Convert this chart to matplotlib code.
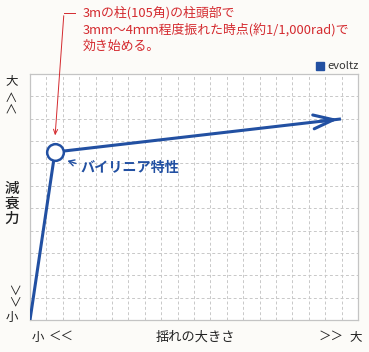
import matplotlib
matplotlib.use('Agg')
import matplotlib.pyplot as plt

plt.rcParams['font.family'] = ['Noto Sans CJK JP', 'DejaVu Sans']

# Data (grid units: 20 columns x 11 rows)
curve_x = [0.0, 1.52, 18.96]
curve_y = [0.0, 7.51, 8.99]
series_name = 'evoltz'
knee_label = 'バイリニア特性'
note_lines = ['3mの柱(105角)の柱頭部で',
              '3mm〜4ｍｍ程度振れた時点(約1/1,000rad)で',
              '効き始める。']
x_title = '揺れの大きさ'
y_title = '減\n衰\n力'

blue = '#2250a2'
red = '#d42a2f'
grid_col = '#c8c8c8'
ink = '#222222'

fig = plt.figure(figsize=(3.69, 3.52), dpi=100)
fig.patch.set_facecolor('#fcfbf8')
ax = fig.add_axes([30 / 369, 32 / 352, 328 / 369, 246 / 352])
ax.set_facecolor('white')
ax.set_xlim(0, 20)
ax.set_ylim(0, 11)
ax.set_xticks(range(0, 21))
ax.set_yticks(range(0, 12))
ax.tick_params(length=0, labelbottom=False, labelleft=False)
ax.grid(True, color=grid_col, linestyle=(0, (3, 2.5)), linewidth=0.7)
for s in ax.spines.values():
    s.set_color('#c4c4c4')
    s.set_linewidth(0.9)

# bilinear line
ax.plot(curve_x, curve_y, color=blue, linewidth=2.2, solid_capstyle='butt', zorder=3)
# open arrow head at the end
ax.annotate('', xy=(curve_x[2], curve_y[2]), xytext=(curve_x[2] - 1.4, curve_y[2] - 0.11),
            arrowprops=dict(arrowstyle='->,head_length=1.45,head_width=0.5', color=blue, lw=2.2),
            zorder=4)
# knee marker
ax.plot(curve_x[1], curve_y[1], 'o', markersize=12, markerfacecolor='white',
        markeredgecolor=blue, markeredgewidth=1.8, zorder=5)

# knee label with small arrow
ax.annotate('', xy=(curve_x[1] + 0.6, curve_y[1] - 0.35), xytext=(curve_x[1] + 1.45, curve_y[1] - 0.55),
            arrowprops=dict(arrowstyle='->,head_length=0.4,head_width=0.22', color=blue, lw=1.0))
ax.text(curve_x[1] + 1.55, curve_y[1] - 0.7, knee_label, color=blue, fontsize=10.2,
        fontweight='bold', ha='left', va='center')

# red note with leader line
ax.annotate('', xy=(curve_x[1], curve_y[1] + 0.62), xytext=(2.07, 13.73),
            arrowprops=dict(arrowstyle='->,head_length=0.35,head_width=0.15', color=red, lw=0.7),
            annotation_clip=False)
ax.plot([2.07, 2.74], [13.73, 13.73], color=red, lw=0.7, clip_on=False)
for i, line in enumerate(note_lines):
    fig.text(83 / 369, 1 - (13 + 16.5 * i) / 352, line, color=red, fontsize=9.3,
             ha='left', va='center')

# legend
fig.patches.append(plt.Rectangle((316 / 369, 1 - 70 / 352), 8 / 369, 8 / 352,
                                 transform=fig.transFigure, color=blue))
fig.text(327 / 369, 1 - 66 / 352, series_name, color='#333333', fontsize=8, ha='left', va='center')

# y axis labels
fig.text(12 / 369, 1 - 81 / 352, '大', fontsize=9, ha='center', va='center', color=ink)
fig.text(12 / 369, 1 - 101 / 352, '＞＞', fontsize=9, rotation=90, ha='center', va='center',
         color=ink)
fig.text(12 / 369, 1 - 204 / 352, y_title, fontsize=10.5, ha='center', va='center',
         linespacing=1.05, color=ink, fontweight='medium')
fig.text(12 / 369, 1 - 296 / 352, '＞＞', fontsize=9, rotation=-90, ha='center', va='center',
         color=ink)
fig.text(12 / 369, 1 - 317 / 352, '小', fontsize=9, ha='center', va='center', color=ink)

# x axis labels
fig.text(38 / 369, 1 - 337 / 352, '小', fontsize=9, ha='center', va='center', color=ink)
fig.text(61 / 369, 1 - 336 / 352, '＜＜', fontsize=9, ha='center', va='center', color=ink)
fig.text(195 / 369, 1 - 337 / 352, x_title, fontsize=9.5, ha='center', va='center', color=ink)
fig.text(331 / 369, 1 - 336 / 352, '＞＞', fontsize=9, ha='center', va='center', color=ink)
fig.text(356 / 369, 1 - 337 / 352, '大', fontsize=9, ha='center', va='center', color=ink)

fig.savefig('out.png', dpi=100, facecolor=fig.get_facecolor())
